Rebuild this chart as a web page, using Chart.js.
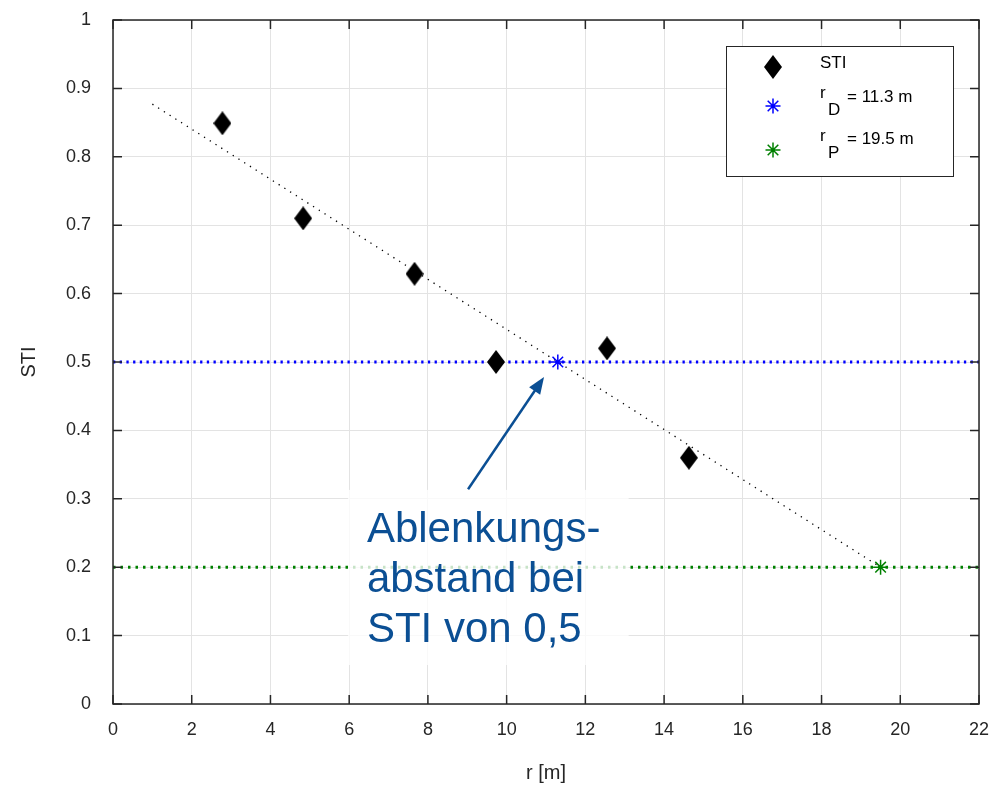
<!DOCTYPE html>
<html>
<head>
<meta charset="utf-8">
<script src="https://cdn.jsdelivr.net/npm/chart.js@4.4.0/dist/chart.umd.min.js"></script>
<style>
html, body { margin: 0; padding: 0; background: #fff; }
</style>
</head>
<body>
<canvas id="grafico" width="999" height="788"></canvas>
<script>
const rWerte = [2.78, 4.83, 7.66, 9.73, 12.55, 14.63];
const stiWerte = [0.849, 0.710, 0.629, 0.500, 0.520, 0.360];

// Ausgleichsgerade
const fitX = [1.0, 19.5];
const fitY = [0.877, 0.200];

// Kennpunkte
const rD = 11.3, stiD = 0.5;
const rP = 19.5, stiP = 0.2;

const xTicks = [0, 2, 4, 6, 8, 10, 12, 14, 16, 18, 20, 22];
const yTicks = [0, 0.1, 0.2, 0.3, 0.4, 0.5, 0.6, 0.7, 0.8, 0.9, 1];

const textZeilen = ["Ablenkungs-", "abstand bei", "STI von 0,5"];

const dunkel = '#262626';
const blau = '#0000ff';
const gruen = '#008000';
const textBlau = '#0b4f94';

// Raute wie in MATLAB (etwas hoeher als breit)
function raute(w, h) {
    const c = document.createElement('canvas');
    c.width = w; c.height = h;
    const g = c.getContext('2d');
    g.fillStyle = '#000';
    g.beginPath();
    g.moveTo(w / 2, 0);
    g.lineTo(w, h / 2);
    g.lineTo(w / 2, h);
    g.lineTo(0, h / 2);
    g.closePath();
    g.fill();
    return c;
}
const rautenBild = raute(18, 24);

function stern(ctx, x, y, r, farbe) {
    ctx.save();
    ctx.strokeStyle = farbe;
    ctx.lineWidth = 1.5;
    ctx.beginPath();
    for (let i = 0; i < 4; i++) {
        const a = i * Math.PI / 4;
        ctx.moveTo(x - r * Math.cos(a), y - r * Math.sin(a));
        ctx.lineTo(x + r * Math.cos(a), y + r * Math.sin(a));
    }
    ctx.stroke();
    ctx.restore();
}

// Hinweis mit Pfeil (in Datenkoordinaten)
const hinweis = {
    box: { x0: 5.97, x1: 13.1, y0: 0.313, y1: 0.057 },
    text: { x: 6.45, y: 0.237 },
    pfeil: { x0: 9.02, y0: 0.314, x1: 10.95, y1: 0.478 }
};

const zusatz = {
    id: 'zusatz',
    afterDatasetsDraw(chart) {
        const { ctx, scales: { x, y } } = chart;
        const b = hinweis.box;
        ctx.save();
        ctx.fillStyle = 'rgba(255,255,255,0.78)';
        const bx = x.getPixelForValue(b.x0), by = y.getPixelForValue(b.y0);
        ctx.fillRect(bx, by, x.getPixelForValue(b.x1) - bx, y.getPixelForValue(b.y1) - by);

        ctx.fillStyle = textBlau;
        ctx.font = '42px "Liberation Sans", Arial, sans-serif';
        ctx.textBaseline = 'alphabetic';
        ctx.textAlign = 'left';
        const tx = x.getPixelForValue(hinweis.text.x);
        const ty = y.getPixelForValue(hinweis.text.y);
        textZeilen.forEach((z, i) => ctx.fillText(z, tx, ty + i * 50));

        // Pfeil
        const p = hinweis.pfeil;
        const px0 = x.getPixelForValue(p.x0), py0 = y.getPixelForValue(p.y0);
        const px1 = x.getPixelForValue(p.x1), py1 = y.getPixelForValue(p.y1);
        const ang = Math.atan2(py1 - py0, px1 - px0);
        const kopf = 18;
        ctx.strokeStyle = textBlau;
        ctx.lineWidth = 2.5;
        ctx.beginPath();
        ctx.moveTo(px0, py0);
        ctx.lineTo(px1 - kopf * 0.8 * Math.cos(ang), py1 - kopf * 0.8 * Math.sin(ang));
        ctx.stroke();
        ctx.beginPath();
        ctx.moveTo(px1, py1);
        ctx.lineTo(px1 - kopf * Math.cos(ang - 0.38), py1 - kopf * Math.sin(ang - 0.38));
        ctx.lineTo(px1 - kopf * Math.cos(ang + 0.38), py1 - kopf * Math.sin(ang + 0.38));
        ctx.closePath();
        ctx.fill();
        ctx.restore();
    },
    afterDraw(chart) {
        const { ctx, chartArea: a, scales: { x, y } } = chart;
        ctx.save();
        // Achsenrahmen mit Ticks nach innen
        ctx.strokeStyle = dunkel;
        ctx.lineWidth = 1.5;
        ctx.strokeRect(a.left, a.top, a.right - a.left, a.bottom - a.top);
        ctx.beginPath();
        const tl = 9;
        x.ticks.forEach(t => {
            const px = x.getPixelForValue(t.value);
            ctx.moveTo(px, a.bottom); ctx.lineTo(px, a.bottom - tl);
            ctx.moveTo(px, a.top); ctx.lineTo(px, a.top + tl);
        });
        y.ticks.forEach(t => {
            const py = y.getPixelForValue(t.value);
            ctx.moveTo(a.left, py); ctx.lineTo(a.left + tl, py);
            ctx.moveTo(a.right, py); ctx.lineTo(a.right - tl, py);
        });
        ctx.stroke();

        // Legende
        const lw = 227, lh = 130;
        const lx = a.right - 26 - lw, ly = a.top + 26;
        ctx.fillStyle = '#fff';
        ctx.fillRect(lx, ly, lw, lh);
        ctx.strokeStyle = dunkel;
        ctx.lineWidth = 1;
        ctx.strokeRect(lx + 0.5, ly + 0.5, lw, lh);

        const mx = lx + 47;
        ctx.drawImage(rautenBild, mx - 9, ly + 21 - 12);
        stern(ctx, mx, ly + 60, 7.5, blau);
        stern(ctx, mx, ly + 104, 7.5, gruen);

        ctx.fillStyle = '#000';
        ctx.font = '17px "Liberation Sans", Arial, sans-serif';
        ctx.textBaseline = 'middle';
        ctx.textAlign = 'left';
        ctx.fillText('STI', lx + 94, ly + 17);
        ctx.fillText('r', lx + 94, ly + 47);
        ctx.fillText('D', lx + 102, ly + 64);
        ctx.fillText('= ' + rD.toFixed(1) + ' m', lx + 121, ly + 51);
        ctx.fillText('r', lx + 94, ly + 90);
        ctx.fillText('P', lx + 102, ly + 107);
        ctx.fillText('= ' + rP.toFixed(1) + ' m', lx + 121, ly + 93);
        ctx.restore();
    }
};

const tickFont = { family: '"Liberation Sans", Arial, sans-serif', size: 18 };

new Chart(document.getElementById('grafico'), {
    type: 'scatter',
    data: {
        datasets: [
            {
                label: 'STI',
                data: rWerte.map((r, i) => ({ x: r, y: stiWerte[i] })),
                pointStyle: rautenBild,
                order: 1
            },
            {
                label: 'rD',
                data: [{ x: rD, y: stiD }],
                pointStyle: 'star',
                radius: 7.5,
                borderColor: blau,
                borderWidth: 1.5,
                order: 2
            },
            {
                label: 'rP',
                data: [{ x: rP, y: stiP }],
                pointStyle: 'star',
                radius: 7.5,
                borderColor: gruen,
                borderWidth: 1.5,
                order: 2
            },
            {
                label: 'Ausgleich',
                data: fitX.map((v, i) => ({ x: v, y: fitY[i] })),
                showLine: true,
                borderColor: '#000',
                borderWidth: 1.3,
                borderDash: [1.3, 5.5],
                pointRadius: 0,
                order: 3
            },
            {
                label: 'STI 0.5',
                data: [{ x: xTicks[0], y: stiD }, { x: xTicks[xTicks.length - 1], y: stiD }],
                showLine: true,
                borderColor: blau,
                borderWidth: 3,
                borderDash: [2.3, 4.4],
                pointRadius: 0,
                order: 4
            },
            {
                label: 'STI 0.2',
                data: [{ x: xTicks[0], y: stiP }, { x: xTicks[xTicks.length - 1], y: stiP }],
                showLine: true,
                borderColor: gruen,
                borderWidth: 3,
                borderDash: [2.5, 5],
                pointRadius: 0,
                order: 4
            }
        ]
    },
    options: {
        responsive: false,
        animation: false,
        devicePixelRatio: 1,
        layout: { padding: { top: 20, right: 20, left: 0, bottom: 0 } },
        plugins: {
            legend: { display: false },
            tooltip: { enabled: false }
        },
        scales: {
            x: {
                type: 'linear',
                min: xTicks[0],
                max: xTicks[xTicks.length - 1],
                afterBuildTicks: s => { s.ticks = xTicks.map(v => ({ value: v })); },
                afterFit: s => { s.height = 84; s.paddingLeft = 0; s.paddingRight = 0; },
                grid: { color: '#e3e3e3', lineWidth: 1, drawTicks: false },
                border: { display: false },
                ticks: { color: dunkel, font: tickFont, padding: 15, maxRotation: 0, callback: v => String(v) },
                title: { display: true, text: 'r [m]', color: dunkel, font: { family: tickFont.family, size: 20 }, padding: { top: 0, bottom: 3 } }
            },
            y: {
                type: 'linear',
                min: yTicks[0],
                max: yTicks[yTicks.length - 1],
                afterBuildTicks: s => { s.ticks = yTicks.map(v => ({ value: v })); },
                afterFit: s => { s.width = 113; s.paddingTop = 0; s.paddingBottom = 0; },
                grid: { color: '#e3e3e3', lineWidth: 1, drawTicks: false },
                border: { display: false },
                ticks: { color: dunkel, font: tickFont, padding: 22, callback: v => String(Math.round(v * 10) / 10) },
                title: { display: true, text: 'STI', color: dunkel, font: { family: tickFont.family, size: 20 }, padding: { top: 17, bottom: 0 } }
            }
        }
    },
    plugins: [zusatz]
});
</script>
</body>
</html>
